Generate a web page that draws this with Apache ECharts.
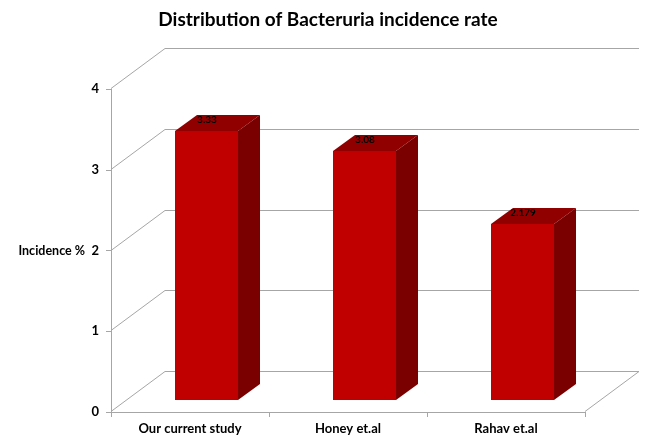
<!DOCTYPE html>
<html>
<head>
<meta charset="utf-8">
<style>
  html, body { margin: 0; padding: 0; background: #fff; }
  #chart { width: 646px; height: 436px; }
</style>
<script src="https://cdn.jsdelivr.net/npm/echarts@6/dist/echarts.min.js"></script>
</head>
<body>
<div id="chart"></div>
<script>
var categories = ['Our current study', 'Honey et.al', 'Rahav et.al']
var incidence = [3.33, 3.08, 2.179]
var yTicks = [0, 1, 2, 3, 4]

// fake 3d: how far the back wall and the bars sit from the front plane, in px
var wallDx = 54
var wallDy = -40
var barDx = 16
var barDy = -12
var barWidth = 63
var sideDx = 22
var sideDy = -16

var fontName = 'Lato, "Open Sans", sans-serif'
var lineColor = '#a6a6a6'

function renderWall(params, api) {
  var rect = params.coordSys
  var y = Math.round(api.coord([0, api.value(0)])[1]) - 0.5
  var left = rect.x
  var right = rect.x + rect.width
  var style = { stroke: lineColor, lineWidth: 1, fill: null }
  var children = [
    { type: 'line', shape: { x1: left, y1: y, x2: left + wallDx, y2: y + wallDy }, style: style },
    { type: 'line', shape: { x1: left + wallDx, y1: y + wallDy, x2: right + wallDx, y2: y + wallDy }, style: style }
  ]
  // floor closes on the right side
  if (api.value(0) === 0) {
    children.push({ type: 'line', shape: { x1: right, y1: y, x2: right + wallDx, y2: y + wallDy }, style: style })
  }
  return { type: 'group', children: children }
}

function renderBar(params, api) {
  var top = api.coord([api.value(0), api.value(1)])
  var base = api.coord([api.value(0), 0])
  // whole pixels, otherwise the face edges go soft and the small label blurs
  var x0 = Math.round(top[0] + barDx - barWidth / 2)
  var x1 = x0 + barWidth
  var y0 = Math.round(top[1] + barDy)
  var y1 = Math.round(base[1] + barDy)
  return {
    type: 'group',
    children: [
      {
        type: 'polygon',
        shape: { points: [[x0, y0], [x1, y0], [x1 + sideDx, y0 + sideDy], [x0 + sideDx, y0 + sideDy]] },
        style: { fill: '#900000' }
      },
      {
        type: 'polygon',
        shape: { points: [[x1, y0], [x1 + sideDx, y0 + sideDy], [x1 + sideDx, y1 + sideDy], [x1, y1]] },
        style: { fill: '#7a0000' }
      },
      {
        type: 'rect',
        shape: { x: x0, y: y0, width: barWidth, height: y1 - y0 },
        style: { fill: '#c00000' }
      },
      {
        type: 'text',
        style: {
          x: x0 + Math.round(barWidth / 2),
          y: y0 - 11,
          text: String(api.value(1)),
          fill: '#000',
          font: 'bold 10px ' + fontName,
          align: 'center',
          verticalAlign: 'middle'
        }
      }
    ]
  }
}

var chart = echarts.init(document.getElementById('chart'))
chart.setOption({
  animation: false,
  backgroundColor: '#fff',
  title: {
    text: 'Distribution of Bacteruria incidence rate',
    left: 323,
    top: 5,
    textAlign: 'center',
    textStyle: { fontFamily: fontName, fontSize: 19, fontWeight: 'bold', color: '#000' }
  },
  grid: { left: 111, right: 61, top: 89, bottom: 24 },
  xAxis: {
    type: 'category',
    data: categories,
    axisLine: { lineStyle: { color: lineColor } },
    axisTick: { show: true, length: 5, alignWithLabel: false, lineStyle: { color: lineColor } },
    axisLabel: { fontFamily: fontName, fontSize: 13, fontWeight: 'bold', color: '#000', margin: 10 }
  },
  yAxis: {
    type: 'value',
    min: 0,
    max: yTicks[yTicks.length - 1],
    interval: 1,
    name: 'Incidence %',
    nameLocation: 'middle',
    nameRotate: 0,
    nameGap: 26,
    nameTextStyle: { fontFamily: fontName, fontSize: 12.5, fontWeight: 'bold', color: '#000' },
    axisLine: { show: true, lineStyle: { color: lineColor } },
    axisTick: { show: true, length: 5, lineStyle: { color: lineColor } },
    axisLabel: { fontFamily: fontName, fontSize: 13, fontWeight: 'bold', color: '#000', margin: 12 },
    splitLine: { show: false }
  },
  series: [
    {
      type: 'custom',
      renderItem: renderWall,
      data: yTicks.map(function(v) { return [v] }),
      encode: { y: 0 },
      silent: true,
      clip: false,
      z: 1
    },
    {
      type: 'custom',
      renderItem: renderBar,
      data: incidence.map(function(v, i) { return [i, v] }),
      encode: { x: 0, y: 1 },
      clip: false,
      z: 2
    }
  ]
})
</script>
</body>
</html>
